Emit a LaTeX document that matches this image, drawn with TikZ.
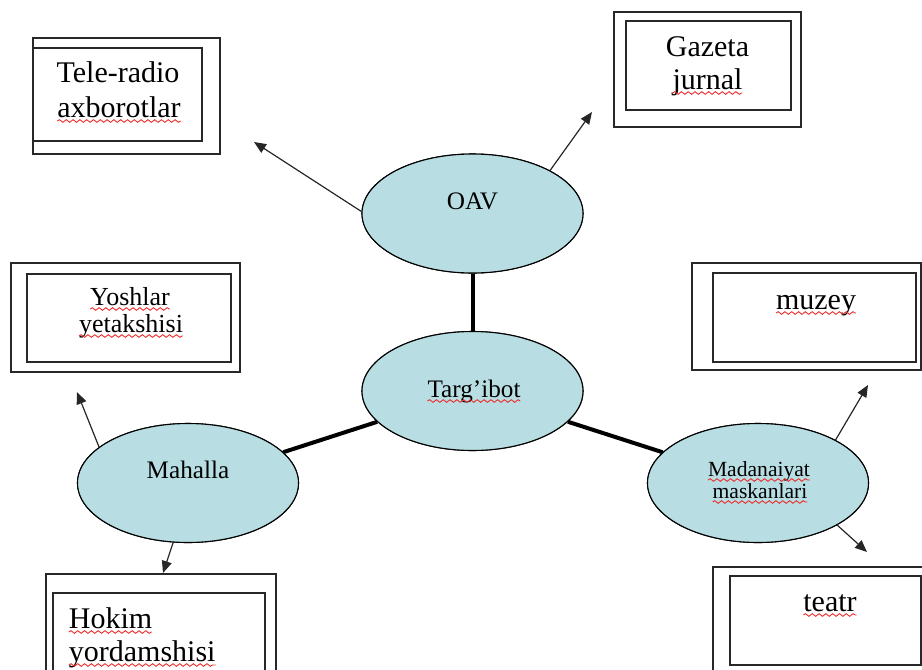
\documentclass[tikz,border=0pt]{standalone}
\usepackage{fontspec}
\setmainfont{Liberation Serif}
\usetikzlibrary{arrows.meta,shapes.geometric,decorations.pathmorphing}
\definecolor{ellfill}{RGB}{184,222,227}
\definecolor{boxline}{RGB}{40,40,40}
\definecolor{squigred}{RGB}{235,45,45}
\newcommand{\sq}[1]{\tikz[baseline=(sqw.base)]{\node[inner sep=0pt,outer sep=0pt] (sqw) {#1};\draw[squigred,line width=0.45pt,decorate,decoration={snake,amplitude=0.65pt,segment length=3.4pt}] ([yshift=-2pt]sqw.base west) -- ([yshift=-2pt]sqw.base east);}}
\begin{document}
\begin{tikzpicture}[x=0.5pt,y=-0.5pt,
  ell/.style={ellipse,draw=black,line width=0.55pt,fill=ellfill,minimum width=110.5pt,minimum height=59.5pt,inner sep=0pt},
  frame/.style={draw=boxline,line width=0.85pt,rectangle,inner sep=0pt},
  txt/.style={inner sep=0pt,anchor=base},
  big/.style={font=\fontsize{15}{17}\selectfont},
  mid/.style={font=\fontsize{13}{14}\selectfont},
  elltxt/.style={font=\fontsize{12.6}{14}\selectfont},
  small/.style={font=\fontsize{10.8}{12}\selectfont},
  arr/.style={line width=0.6pt,draw=black!85,-{Triangle[length=6pt,width=5pt]}},
  thickline/.style={line width=2pt}]
\useasboundingbox (0,0) rectangle (922,670);
\clip (0,0) rectangle (922,670);

% boxes
\node[frame,minimum width=93.5pt,minimum height=58pt] (tro) at (126.5,96) {};
\node[frame,minimum width=84.5pt,minimum height=46.5pt] (tri) at (117.5,94.5) {};
\node[frame,minimum width=93.5pt,minimum height=57.5pt] (gzo) at (707.5,69.5) {};
\node[frame,minimum width=82.5pt,minimum height=44.5pt] (gzi) at (708.5,65.5) {};
\node[frame,minimum width=114.5pt,minimum height=54.5pt] (yso) at (125.5,317.5) {};
\node[frame,minimum width=102pt,minimum height=44pt] (ysi) at (129,318) {};
\node[frame,minimum width=114.5pt,minimum height=53.5pt] (mzo) at (806.5,316.5) {};
\node[frame,minimum width=101.5pt,minimum height=44.5pt] (mzi) at (814.5,317.5) {};
\node[frame,minimum width=116pt,minimum height=66.5pt] (tto) at (829,633.5) {};
\node[frame,minimum width=95.5pt,minimum height=44.5pt] (tti) at (825.5,620.5) {};
\node[frame,minimum width=115pt,minimum height=63pt] (hko) at (161,637) {};
\node[frame,minimum width=106pt,minimum height=53.5pt] (hki) at (159,646.5) {};

% box texts
\node[txt,big] (tr1) at (118,82) {Tele-radio};
\node[txt,big] (tr2) at (119,117) {\sq{axborotlar}};
\node[txt,big] (gz1) at (707.5,56) {Gazeta};
\node[txt,big] (gz2) at (707.5,89) {\sq{jurnal}};
\node[txt,mid] (ys1) at (130,305) {\sq{Yoshlar}};
\node[txt,mid] (ys2) at (131,332) {\sq{yetakshisi}};
\node[txt,big] (mz1) at (816,309) {\sq{muzey}};
\node[txt,big] (tt1) at (830,611) {\sq{teatr}};
\node[txt,big,anchor=base west] (hk1) at (68,628) {\sq{Hokim}};
\node[txt,big,anchor=base west] (hk2) at (68,661) {\sq{yordamshisi}};

% ellipses
\node[ell] (oav) at (472.5,213.5) {};
\node[ell] (targ) at (472.5,391) {};
\node[ell] (mah) at (188,483) {};
\node[ell] (mad) at (758,483) {};

\draw[thickline] (oav) -- (targ);
\draw[thickline] (targ) -- (mah);
\draw[thickline] (targ) -- (mad);
\node[ell] at (targ) {};
\node[ell] at (oav) {};
\node[ell] at (mah) {};
\node[ell] at (mad) {};

% ellipse texts
\node[txt,elltxt] (oavt) at (472.5,209) {OAV};
\node[txt,elltxt] (targt) at (474,397) {\sq{Targ’ibot}};
\node[txt,elltxt] (maht) at (188,478) {Mahalla};
\node[txt,small] (madt1) at (759,476) {\sq{Madanaiyat}};
\node[txt,small] (madt2) at (760,498) {\sq{maskanlari}};

% arrows
\coordinate (t1) at (254,142);
\coordinate (t2) at (592,112);
\coordinate (t3) at (77,392);
\coordinate (t4) at (163,573);
\coordinate (t5) at (868,385);
\coordinate (t6) at (867,552);
\draw[arr] (oav.179) -- (t1);
\draw[arr] (oav.29) -- (t2);
\draw[arr] (mah.158) -- (t3);
\draw[arr] (mah.256) -- (t4);
\draw[arr] (mad.29) -- (t5);
\draw[arr] (mad.332) -- (t6);
\end{tikzpicture}
\end{document}
